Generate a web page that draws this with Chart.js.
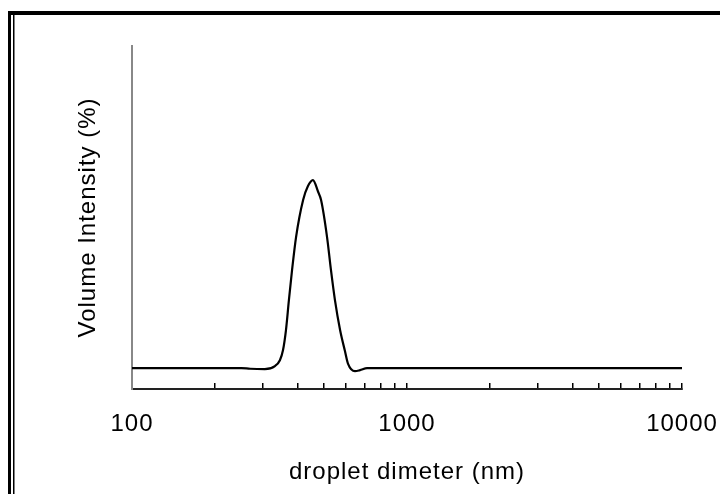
<!DOCTYPE html>
<html>
<head>
<meta charset="utf-8">
<script src="https://cdn.jsdelivr.net/npm/chart.js@4/dist/chart.umd.min.js"></script>
<style>
  html, body { margin: 0; padding: 0; background: #fff; }
  #wrap { width: 720px; height: 494px; }
</style>
</head>
<body>
<div id="wrap"><canvas id="chart"></canvas></div>
<script>
// droplet size distribution
const diameters = [100, 250, 269, 304, 331, 345, 354, 363, 372, 382, 395, 419, 436, 455,
                   475, 487, 512, 529, 547, 571, 595, 610, 647, 675, 716, 10000];
const intensities = [6.1, 6.1, 5.9, 5.8, 6.7, 8.4, 11.3, 17.2, 25.9, 34.7, 44.3, 55.1, 59.1, 60.9,
                     57.5, 55.1, 44.3, 34.7, 25.9, 17.2, 11.0, 7.4, 5.2, 5.5, 6.1, 6.1];

// x axis ticks (log scale, minor ticks without labels)
const tickValues = [100, 200, 300, 400, 500, 600, 700, 800, 900,
                    1000, 2000, 3000, 4000, 5000, 6000, 7000, 8000, 9000, 10000];
const tickLabels = ['100', '1000', '10000'];

const FONT = "'Liberation Sans', Arial, sans-serif";

// frame lines around the picture (top and double left rule)
const framePlugin = {
    id: 'frame',
    beforeDraw: function(chart) {
        const ctx = chart.ctx;
        ctx.fillStyle = '#fff';
        ctx.fillRect(0, 0, chart.width, chart.height);
        // the original text is set slightly wider
        ctx.letterSpacing = '1px';
    },
    afterDraw: function(chart) {
        const ctx = chart.ctx;
        ctx.save();
        ctx.fillStyle = '#000';
        ctx.fillRect(8, 11, chart.width - 8, 4);
        ctx.fillRect(8, 11, 3, chart.height - 11);
        ctx.fillRect(13, 15, 1.5, chart.height - 15);
        ctx.restore();
    }
};

const points = diameters.map((d, i) => ({ x: d, y: intensities[i] }));

new Chart(document.getElementById('chart'), {
    type: 'line',
    data: {
        datasets: [{
            data: points,
            borderColor: '#000',
            borderWidth: 2.2,
            pointRadius: 0,
            fill: false,
            cubicInterpolationMode: 'monotone'
        }]
    },
    options: {
        responsive: true,
        maintainAspectRatio: false,
        animation: false,
        layout: {
            padding: { left: 60, top: 46, right: 38, bottom: 0 }
        },
        plugins: {
            legend: { display: false },
            tooltip: { enabled: false }
        },
        scales: {
            x: {
                type: 'logarithmic',
                min: 100,
                max: 10000,
                afterBuildTicks: function(scale) {
                    scale.ticks = tickValues.map(v => ({ value: v }));
                },
                afterFit: function(scale) {
                    scale.height = 105;
                    scale.paddingLeft = 0;
                    scale.paddingRight = 0;
                },
                grid: {
                    drawOnChartArea: false,
                    drawTicks: true,
                    tickLength: -6,
                    color: '#000',
                    lineWidth: 1.5
                },
                border: { display: true, color: '#222', width: 2 },
                ticks: {
                    autoSkip: false,
                    maxRotation: 0,
                    padding: 27,
                    color: '#000',
                    font: { family: FONT, size: 24 },
                    callback: function(value) {
                        const s = String(value);
                        return tickLabels.includes(s) ? s : '';
                    }
                },
                title: {
                    display: true,
                    text: 'droplet dimeter (nm)',
                    color: '#000',
                    font: { family: FONT, size: 24 },
                    padding: { top: 0, bottom: 7 }
                }
            },
            y: {
                min: 0,
                max: 100,
                afterFit: function(scale) {
                    scale.width = 72;
                    scale.paddingTop = 0;
                    scale.paddingBottom = 0;
                },
                grid: { display: false },
                border: { display: true, color: '#888', width: 2 },
                ticks: { display: false },
                title: {
                    display: true,
                    text: 'Volume Intensity (%)',
                    color: '#000',
                    font: { family: FONT, size: 24 },
                    padding: { top: 14, bottom: 0 }
                }
            }
        }
    },
    plugins: [framePlugin]
});
</script>
</body>
</html>
